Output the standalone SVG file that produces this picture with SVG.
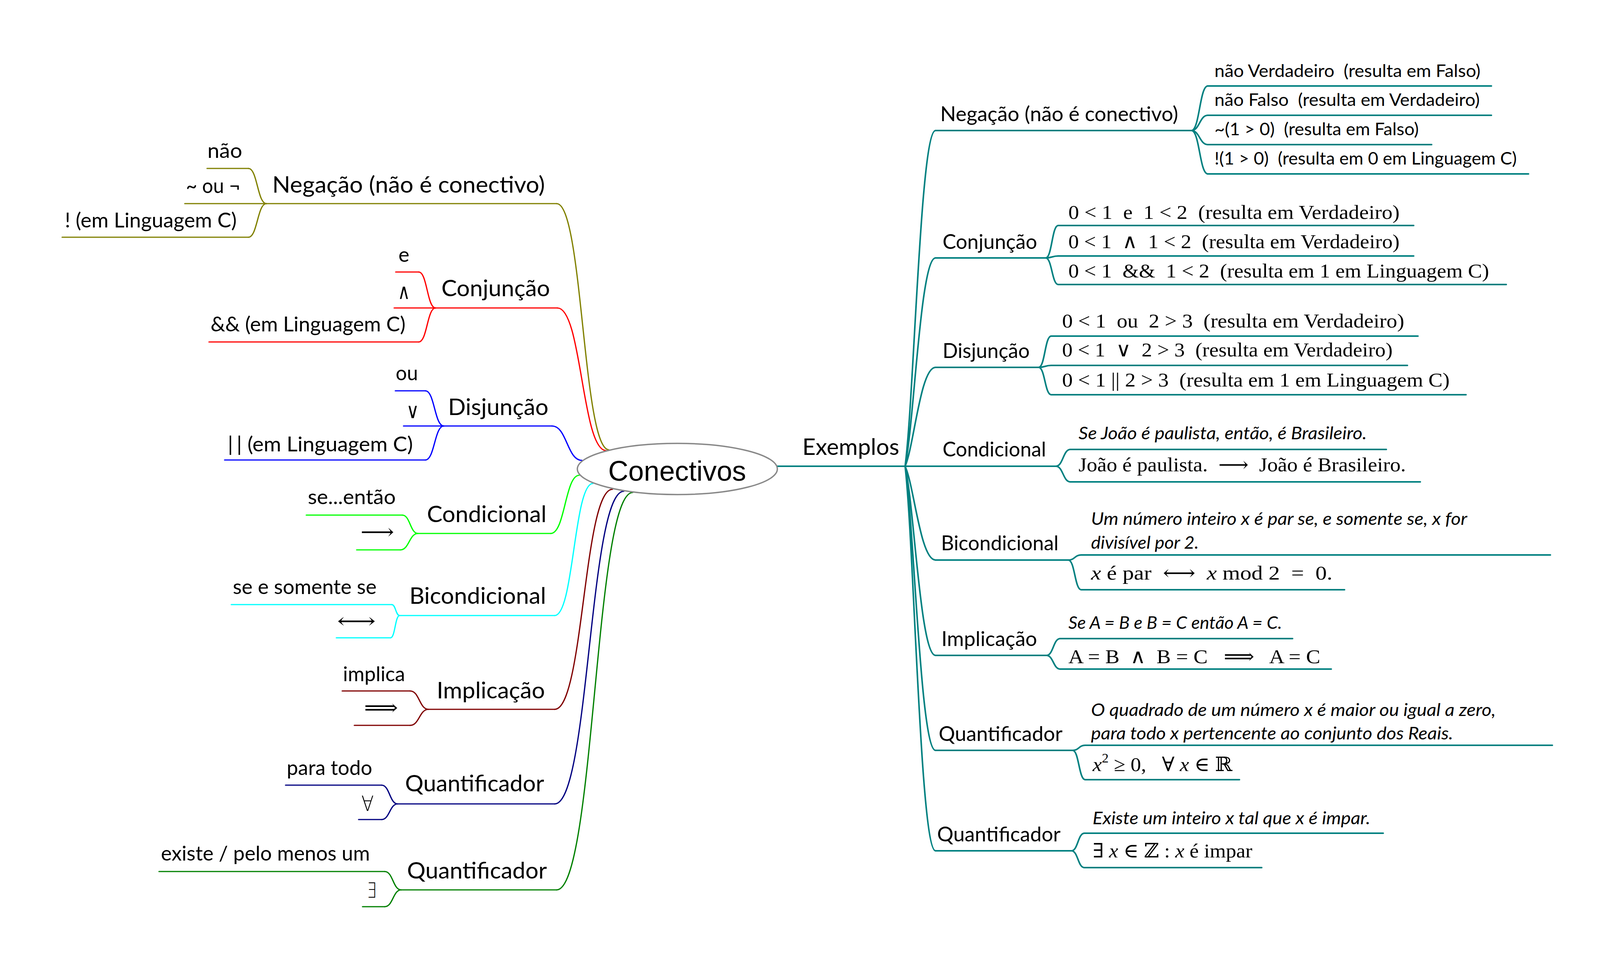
<svg xmlns="http://www.w3.org/2000/svg" width="4138" height="2482" viewBox="0 0 4138 2482">
<style>
.ln{fill:none;stroke-width:3.2;stroke-linecap:round}
.tl{fill:none;stroke:#008080;stroke-width:4;stroke-linecap:round}
.ol{stroke:#808000}.rd{stroke:#ff0000}.bl{stroke:#0000ff}.li{stroke:#00ff00}.cy{stroke:#00ffff}.dr{stroke:#800000}.nv{stroke:#000080}.gr{stroke:#008000}
text{fill:#000}
.m{font-family:Lato,"Liberation Sans",sans-serif;font-size:59px}
.s{font-family:Lato,"Liberation Sans",sans-serif;font-size:53px}
.r{font-family:Lato,"Liberation Sans",sans-serif;font-size:53px}
.c{font-family:Lato,"Liberation Sans",sans-serif;font-size:45px}
.i{font-family:Lato,"Liberation Sans",sans-serif;font-size:45px;font-style:italic}
.t{font-family:"Liberation Serif","DejaVu Serif",serif;font-size:51px}
.y{font-family:"DejaVu Sans","DejaVu Serif",sans-serif;font-weight:200;font-size:54px}
.v{font-style:italic}
</style>
<rect width="4138" height="2482" fill="#ffffff"/>
<g id="connectors">
<path class="ln ol" d="M636 431C659 431 659 521 682 521M636 607C659 607 659 521 682 521M1425 521C1492 521 1492 1151 1559 1151"/>
<path class="ln rd" d="M1072 696C1093.5 696 1093.5 788 1115 788M1072 875C1093.5 875 1093.5 788 1115 788M1427 788C1489.5 788 1489.5 1153 1552 1153"/>
<path class="ln bl" d="M1089 1000C1112.5 1000 1112.5 1090 1136 1090M1089 1177C1112.5 1177 1112.5 1090 1136 1090M1413 1090C1451.5 1090 1451.5 1178 1490 1178"/>
<path class="ln li" d="M1030 1318C1050 1318 1050 1365 1070 1365M1025 1407C1047.5 1407 1047.5 1365 1070 1365M1410 1365C1446.5 1365 1446.5 1216 1483 1216"/>
<path class="ln cy" d="M1003 1547C1013 1547 1013 1575 1023 1575M1000 1632C1011.5 1632 1011.5 1575 1023 1575M1420 1575C1469 1575 1469 1237 1518 1237"/>
<path class="ln dr" d="M1050 1768C1073.5 1768 1073.5 1815 1097 1815M1050 1856C1073.5 1856 1073.5 1815 1097 1815M1420 1815C1494 1815 1494 1252 1568 1252"/>
<path class="ln nv" d="M977 2009C997.5 2009 997.5 2057 1018 2057M977 2097C997.5 2097 997.5 2057 1018 2057M1420 2057C1508.5 2057 1508.5 1257 1597 1257"/>
<path class="ln gr" d="M985 2230C1006 2230 1006 2277 1027 2277M985 2320C1006 2320 1006 2277 1027 2277M1425 2277C1522.5 2277 1522.5 1260 1620 1260"/>
<path class="tl" d="M1990 1193H2317"/>
<path class="tl" d="M2317 1193C2340 1021 2356 334 2395 334M2317 1193C2340 1086 2356 660 2395 660M2317 1193C2340 1142 2356 940 2395 940M2317 1193H2395M2317 1193C2340 1241 2356 1433 2395 1433M2317 1193C2340 1290 2356 1677 2395 1677M2317 1193C2340 1338 2356 1920 2395 1920M2317 1193C2340 1390 2356 2177 2395 2177"/>
<path class="tl" d="M3050 334C3071 334 3071 220 3092 220M3050 334C3071 334 3071 295 3092 295M3050 334C3071 334 3071 370 3092 370M3050 334C3071 334 3071 445 3092 445"/>
<path class="tl" d="M2677 660C2693 660 2693 577 2709 577M2677 660C2693 660 2693 655 2709 655M2677 660C2693 660 2693 728 2709 728"/>
<path class="tl" d="M2659 940C2675 940 2675 860 2691 860M2659 940C2675 940 2675 935 2691 935M2659 940C2675 940 2675 1010 2691 1010"/>
<path class="tl" d="M2703 1193C2721.5 1193 2721.5 1150 2740 1150M2703 1193C2721.5 1193 2721.5 1233 2740 1233"/>
<path class="tl" d="M2735 1433C2751.5 1433 2751.5 1420 2768 1420M2735 1433C2751.5 1433 2751.5 1509 2768 1509"/>
<path class="tl" d="M2679 1677C2696.5 1677 2696.5 1634 2714 1634M2679 1677C2696.5 1677 2696.5 1712 2714 1712"/>
<path class="tl" d="M2746 1920C2762 1920 2762 1907 2778 1907M2746 1920C2762 1920 2762 1995 2778 1995"/>
<path class="tl" d="M2743 2177C2759.5 2177 2759.5 2132 2776 2132M2743 2177C2759.5 2177 2759.5 2220 2776 2220"/>
</g>
<g id="conectivos">
<ellipse cx="1734" cy="1200" rx="256" ry="65.5" fill="#ffffff" stroke="#888888" stroke-width="3.5"/>
<text x="1557" y="1230" font-family="'Liberation Sans',Arial,sans-serif" font-size="72" textLength="353" lengthAdjust="spacingAndGlyphs">Conectivos</text>
</g>
<g id="l-negacao"><path class="ln ol" d="M682 521H1425"/><text class="m" x="697" y="493" textLength="698" lengthAdjust="spacingAndGlyphs">Negação (não é conectivo)</text></g>
<g id="l-negacao-nao"><path class="ln ol" d="M530 431H636"/><text class="s" x="531" y="404" textLength="89" lengthAdjust="spacingAndGlyphs">não</text></g>
<g id="l-negacao-til"><path class="ln ol" d="M473 521H682"/><text class="s" x="476" y="494" textLength="139" lengthAdjust="spacingAndGlyphs">~ ou ¬</text></g>
<g id="l-negacao-c"><path class="ln ol" d="M159 607H636"/><text class="s" x="166" y="582" textLength="440" lengthAdjust="spacingAndGlyphs">! (em Linguagem C)</text></g>
<g id="l-conjuncao"><path class="ln rd" d="M1115 788H1427"/><text class="m" x="1130" y="758" textLength="278" lengthAdjust="spacingAndGlyphs">Conjunção</text></g>
<g id="l-conjuncao-e"><path class="ln rd" d="M1013 696H1072"/><text class="s" x="1020" y="670">e</text></g>
<g id="l-conjuncao-and"><path class="ln rd" d="M1009 788H1115"/><text class="y" x="1018" y="765" textLength="32" lengthAdjust="spacingAndGlyphs">∧</text></g>
<g id="l-conjuncao-c"><path class="ln rd" d="M535 875H1072"/><text class="s" x="539" y="848" textLength="499" lengthAdjust="spacingAndGlyphs">&amp;&amp; (em Linguagem C)</text></g>
<g id="l-disjuncao"><path class="ln bl" d="M1136 1090H1413"/><text class="m" x="1147" y="1062" textLength="257" lengthAdjust="spacingAndGlyphs">Disjunção</text></g>
<g id="l-disjuncao-ou"><path class="ln bl" d="M1012 1000H1089"/><text class="s" x="1013" y="973" textLength="57" lengthAdjust="spacingAndGlyphs">ou</text></g>
<g id="l-disjuncao-or"><path class="ln bl" d="M1033 1090H1136"/><text class="y" x="1040" y="1070" textLength="33" lengthAdjust="spacingAndGlyphs">∨</text></g>
<g id="l-disjuncao-c"><path class="ln bl" d="M575 1177H1089"/><text class="s" x="583" y="1155" textLength="474" lengthAdjust="spacingAndGlyphs">|<tspan dx="9">|</tspan> (em Linguagem C)</text></g>
<g id="l-condicional"><path class="ln li" d="M1070 1365H1410"/><text class="m" x="1093" y="1336" textLength="306" lengthAdjust="spacingAndGlyphs">Condicional</text></g>
<g id="l-condicional-se"><path class="ln li" d="M784 1318H1030"/><text class="s" x="788" y="1290" textLength="225" lengthAdjust="spacingAndGlyphs">se...então</text></g>
<g id="l-condicional-seta"><path class="ln li" d="M913 1407H1025"/><text class="y" x="923" y="1379" textLength="86" lengthAdjust="spacingAndGlyphs">⟶</text></g>
<g id="l-bicondicional"><path class="ln cy" d="M1023 1575H1420"/><text class="m" x="1048" y="1545" textLength="350" lengthAdjust="spacingAndGlyphs">Bicondicional</text></g>
<g id="l-bicondicional-se"><path class="ln cy" d="M592 1547H1003"/><text class="s" x="596" y="1520" textLength="368" lengthAdjust="spacingAndGlyphs">se e somente se</text></g>
<g id="l-bicondicional-seta"><path class="ln cy" d="M861 1632H1000"/><text class="y" x="863" y="1607" textLength="99" lengthAdjust="spacingAndGlyphs">⟷</text></g>
<g id="l-implicacao"><path class="ln dr" d="M1097 1815H1420"/><text class="m" x="1118" y="1787" textLength="277" lengthAdjust="spacingAndGlyphs">Implicação</text></g>
<g id="l-implicacao-txt"><path class="ln dr" d="M876 1768H1050"/><text class="s" x="878" y="1743" textLength="159" lengthAdjust="spacingAndGlyphs">implica</text></g>
<g id="l-implicacao-seta"><path class="ln dr" d="M907 1856H1050"/><text class="y" x="932" y="1829" textLength="87" lengthAdjust="spacingAndGlyphs">⟹</text></g>
<g id="l-quantificador-todo"><path class="ln nv" d="M1018 2057H1420"/><text class="m" x="1037" y="2025" textLength="356" lengthAdjust="spacingAndGlyphs">Quantificador</text></g>
<g id="l-quantificador-todo-txt"><path class="ln nv" d="M731 2009H977"/><text class="s" x="734" y="1983" textLength="219" lengthAdjust="spacingAndGlyphs">para todo</text></g>
<g id="l-quantificador-todo-sym"><path class="ln nv" d="M918 2097H977"/><text class="y" x="925" y="2075" font-size="55" textLength="32" lengthAdjust="spacingAndGlyphs">∀</text></g>
<g id="l-quantificador-existe"><path class="ln gr" d="M1027 2277H1425"/><text class="m" x="1042" y="2248" textLength="358" lengthAdjust="spacingAndGlyphs">Quantificador</text></g>
<g id="l-quantificador-existe-txt"><path class="ln gr" d="M407 2230H985"/><text class="s" x="412" y="2202" textLength="535" lengthAdjust="spacingAndGlyphs">existe / pelo menos um</text></g>
<g id="l-quantificador-existe-sym"><path class="ln gr" d="M928 2320H985"/><text class="y" x="939" y="2297" font-size="55" textLength="25" lengthAdjust="spacingAndGlyphs">∃</text></g>
<g id="exemplos"><text class="m" x="2054" y="1164" textLength="248" lengthAdjust="spacingAndGlyphs">Exemplos</text></g>
<g id="r-negacao"><path class="tl" d="M2395 334H3050"/><text class="r" x="2407" y="310" textLength="609" lengthAdjust="spacingAndGlyphs">Negação (não é conectivo)</text></g>
<g id="r-negacao-1"><path class="tl" d="M3092 220H3818"/><text class="c" x="3109" y="197" textLength="681" lengthAdjust="spacingAndGlyphs">não Verdadeiro&#160; (resulta em Falso)</text></g>
<g id="r-negacao-2"><path class="tl" d="M3092 295H3818"/><text class="c" x="3109" y="271" textLength="679" lengthAdjust="spacingAndGlyphs">não Falso&#160; (resulta em Verdadeiro)</text></g>
<g id="r-negacao-3"><path class="tl" d="M3092 370H3665"/><text class="c" x="3109" y="346" textLength="523" lengthAdjust="spacingAndGlyphs">~(1 &gt; 0)&#160; (resulta em Falso)</text></g>
<g id="r-negacao-4"><path class="tl" d="M3092 445H3913"/><text class="c" x="3109" y="421" textLength="774" lengthAdjust="spacingAndGlyphs">!(1 &gt; 0)&#160; (resulta em 0 em Linguagem C)</text></g>
<g id="r-conjuncao"><path class="tl" d="M2395 660H2677"/><text class="r" x="2413" y="637" textLength="242" lengthAdjust="spacingAndGlyphs">Conjunção</text></g>
<g id="r-conjuncao-1"><path class="tl" d="M2709 577H3619"/><text class="t" x="2735" y="560" textLength="848" lengthAdjust="spacingAndGlyphs">0 &lt; 1&#160; e&#160; 1 &lt; 2&#160; (resulta em Verdadeiro)</text></g>
<g id="r-conjuncao-2"><path class="tl" d="M2709 655H3619"/><text class="t" x="2735" y="635" textLength="848" lengthAdjust="spacingAndGlyphs">0 &lt; 1&#160; ∧&#160; 1 &lt; 2&#160; (resulta em Verdadeiro)</text></g>
<g id="r-conjuncao-3"><path class="tl" d="M2709 728H3856"/><text class="t" x="2735" y="710" textLength="1077" lengthAdjust="spacingAndGlyphs">0 &lt; 1&#160; &amp;&amp;&#160; 1 &lt; 2&#160; (resulta em 1 em Linguagem C)</text></g>
<g id="r-disjuncao"><path class="tl" d="M2395 940H2659"/><text class="r" x="2413" y="916" textLength="223" lengthAdjust="spacingAndGlyphs">Disjunção</text></g>
<g id="r-disjuncao-1"><path class="tl" d="M2691 860H3630"/><text class="t" x="2719" y="838" textLength="876" lengthAdjust="spacingAndGlyphs">0 &lt; 1&#160; ou&#160; 2 &gt; 3&#160; (resulta em Verdadeiro)</text></g>
<g id="r-disjuncao-2"><path class="tl" d="M2691 935H3603"/><text class="t" x="2719" y="912" textLength="846" lengthAdjust="spacingAndGlyphs">0 &lt; 1&#160; ∨&#160; 2 &gt; 3&#160; (resulta em Verdadeiro)</text></g>
<g id="r-disjuncao-3"><path class="tl" d="M2691 1010H3753"/><text class="t" x="2719" y="989" textLength="992" lengthAdjust="spacingAndGlyphs">0 &lt; 1 || 2 &gt; 3&#160; (resulta em 1 em Linguagem C)</text></g>
<g id="r-condicional"><path class="tl" d="M2395 1193H2703"/><text class="r" x="2413" y="1168" textLength="265" lengthAdjust="spacingAndGlyphs">Condicional</text></g>
<g id="r-condicional-1"><path class="tl" d="M2740 1150H3549"/><text class="i" x="2761" y="1124" textLength="738" lengthAdjust="spacingAndGlyphs">Se João é paulista, então, é Brasileiro.</text></g>
<g id="r-condicional-2"><path class="tl" d="M2740 1233H3636"/><text class="t" x="2761" y="1206" textLength="838" lengthAdjust="spacingAndGlyphs">João é paulista.&#160; ⟶&#160; João é Brasileiro.</text></g>
<g id="r-bicondicional"><path class="tl" d="M2395 1433H2735"/><text class="r" x="2409" y="1408" textLength="301" lengthAdjust="spacingAndGlyphs">Bicondicional</text></g>
<g id="r-bicondicional-1"><path class="tl" d="M2768 1420H3969"/>
<text class="i" x="2793" y="1343" textLength="963" lengthAdjust="spacingAndGlyphs">Um número inteiro x é par se, e somente se, x for</text>
<text class="i" x="2793" y="1404" textLength="276" lengthAdjust="spacingAndGlyphs">divisível por 2.</text></g>
<g id="r-bicondicional-2"><path class="tl" d="M2768 1509H3442"/><text class="t" x="2793" y="1483" textLength="618" lengthAdjust="spacingAndGlyphs"><tspan class="v">x</tspan> é par&#160; ⟷&#160; <tspan class="v">x</tspan> mod 2&#160; =&#160; 0.</text></g>
<g id="r-implicacao"><path class="tl" d="M2395 1677H2679"/><text class="r" x="2410" y="1653" textLength="245" lengthAdjust="spacingAndGlyphs">Implicação</text></g>
<g id="r-implicacao-1"><path class="tl" d="M2714 1634H3309"/><text class="i" x="2735" y="1609" textLength="547" lengthAdjust="spacingAndGlyphs">Se A = B e B = C então A = C.</text></g>
<g id="r-implicacao-2"><path class="tl" d="M2714 1712H3408"/><text class="t" x="2735" y="1697" textLength="645" lengthAdjust="spacingAndGlyphs">A = B&#160; ∧&#160; B = C&#160;&#160; ⟹&#160;&#160; A = C</text></g>
<g id="r-quantificador-1"><path class="tl" d="M2395 1920H2746"/><text class="r" x="2403" y="1896" textLength="317" lengthAdjust="spacingAndGlyphs">Quantificador</text></g>
<g id="r-quantificador-1-a"><path class="tl" d="M2778 1907H3974"/>
<text class="i" x="2793" y="1832" textLength="1036" lengthAdjust="spacingAndGlyphs">O quadrado de um número x é maior ou igual a zero,</text>
<text class="i" x="2793" y="1892" textLength="927" lengthAdjust="spacingAndGlyphs">para todo x pertencente ao conjunto dos Reais.</text></g>
<g id="r-quantificador-1-b"><path class="tl" d="M2778 1995H3173"/><text class="t" x="2797" y="1973" textLength="358" lengthAdjust="spacingAndGlyphs"><tspan class="v">x</tspan><tspan dy="-22" font-size="33">2</tspan><tspan dy="22"> ≥ 0,&#160;&#160; ∀ </tspan><tspan class="v">x</tspan> ∈ ℝ</text></g>
<g id="r-quantificador-2"><path class="tl" d="M2395 2177H2743"/><text class="r" x="2399" y="2153" textLength="316" lengthAdjust="spacingAndGlyphs">Quantificador</text></g>
<g id="r-quantificador-2-a"><path class="tl" d="M2776 2132H3541"/><text class="i" x="2797" y="2109" textLength="711" lengthAdjust="spacingAndGlyphs">Existe um inteiro x tal que x é impar.</text></g>
<g id="r-quantificador-2-b"><path class="tl" d="M2776 2220H3230"/><text class="t" x="2797" y="2194" textLength="409" lengthAdjust="spacingAndGlyphs">∃ <tspan class="v">x</tspan> ∈ ℤ : <tspan class="v">x</tspan> é impar</text></g>
</svg>
